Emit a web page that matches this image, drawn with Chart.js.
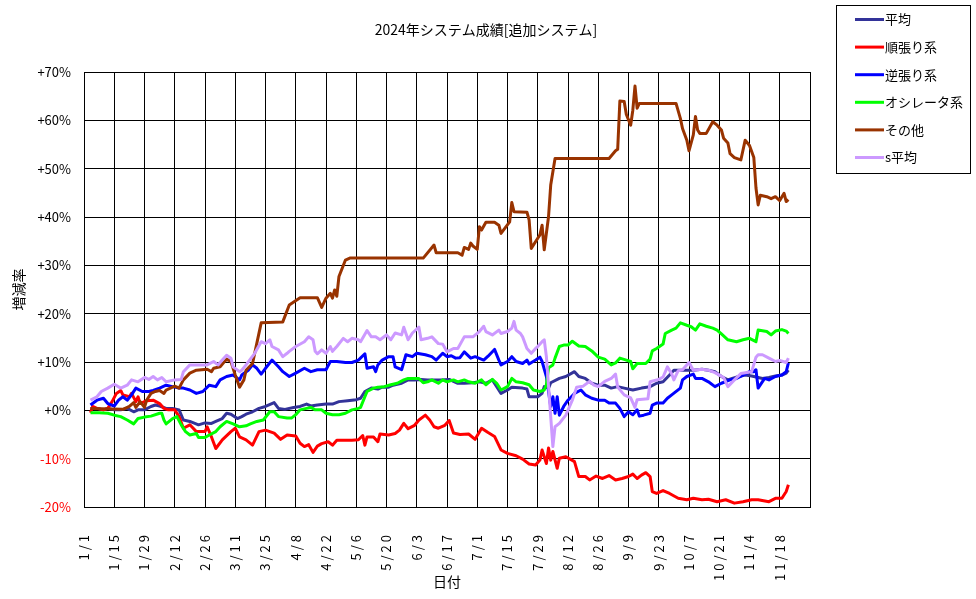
<!DOCTYPE html>
<html><head><meta charset="utf-8">
<script src="https://cdn.jsdelivr.net/npm/chart.js@4.4.1/dist/chart.umd.min.js"></script>
<style>html,body{margin:0;padding:0;background:#fff;}#wrap{width:976px;height:599px;position:relative;}</style>
</head><body><div id="wrap"><canvas id="c" width="976" height="599"></canvas></div>
<script>
const chartTitle = '2024年システム成績[追加システム]';
const xAxisTitle = '日付';
const yAxisTitle = '増減率';
const tickDays = [0,14,28,42,56,70,84,98,112,126,140,154,168,182,196,210,224,238,252,266,280,294,308,322,336];
const tickLabels = ['1/1','1/15','1/29','2/12','2/26','3/11','3/25','4/8','4/22','5/6','5/20','6/3','6/17','7/1','7/15','7/29','8/12','8/26','9/9','9/23','10/7','10/21','11/4','11/18',''];
const seriesNames = ['平均','順張り系','逆張り系','オシレータ系','その他','s平均'];
const seriesColors = ['#333399','#FF0000','#0000FF','#00FF00','#993300','#CC99FF'];

const avgDays = [3,6,9,11,14,17,20,23,25,28,31,33,35,38,41,44,46,49,53,56,59,61,64,66,68,71,73,75,78,81,84,88,90,93,97,100,103,105,108,112,115,118,122,126,128,130,133,136,138,141,143,147,150,153,156,159,162,165,169,173,176,180,183,186,189,191,193,196,198,203,205,206,210,212,213,215,216,220,223,227,229,232,235,238,241,244,247,250,254,258,262,265,268,271,273,276,282,286,289,292,295,298,300,303,306,309,312,314,317,320,323,325,326];
const avgVals = [0.4,0.4,0.1,0.4,0.1,0.1,0.4,-0.3,0.1,0.1,0.8,1.1,0.9,0.4,0.4,0.1,-2.0,-2.3,-3.0,-2.6,-2.7,-2.3,-1.7,-0.6,-0.8,-1.7,-1.3,-0.8,-0.3,0.4,0.8,1.6,0.4,0.2,0.6,0.8,1.3,0.9,1.1,1.3,1.3,1.8,2.0,2.2,2.5,3.9,4.6,4.4,4.8,4.8,5.2,5.6,6.3,6.3,6.4,6.3,6.3,6.3,6.4,5.6,5.6,5.7,5.9,5.6,6.3,4.9,3.5,4.2,4.8,4.6,4.4,2.8,2.8,3.5,4.9,4.6,5.7,6.6,7.0,8.0,7.0,6.6,5.6,5.2,5.2,4.6,4.9,4.6,4.2,4.6,4.9,5.6,5.9,7.3,8.3,8.3,8.3,8.5,8.3,8.0,7.0,6.3,6.6,7.0,7.3,7.1,6.8,6.6,6.8,7.1,7.3,7.7,8.3];

const trendDays = [3,4,6,9,11,13,15,17,18,21,22,24,25,26,29,32,35,37,39,42,44,46,49,52,56,57,59,61,64,68,70,72,75,78,81,84,88,91,94,98,100,102,104,106,108,110,113,115,117,124,127,129,130,131,134,136,137,141,144,146,148,150,153,155,158,160,162,164,167,169,171,174,178,181,184,187,190,193,196,200,203,206,209,211,212,214,215,216,217,219,220,223,227,229,232,234,237,240,243,246,249,252,254,256,258,260,262,263,265,268,271,275,279,282,286,289,293,297,301,305,309,312,317,320,323,325,326];
const trendVals = [-0.5,0.8,0.4,0.1,0.4,1.8,3.5,4.1,3.2,2.8,3.5,1.8,2.8,1.4,2.0,2.1,1.4,0.4,0.1,0.1,-1.3,-3.7,-3.0,-4.4,-4.4,-3.4,-5.5,-7.9,-6.1,-4.4,-3.7,-5.5,-6.1,-7.2,-4.4,-4.1,-4.7,-6.0,-5.1,-5.3,-6.8,-7.5,-7.1,-8.7,-7.4,-6.9,-6.5,-7.2,-6.2,-6.2,-6.1,-5.2,-7.2,-5.5,-5.5,-6.5,-4.9,-5.1,-4.8,-4.1,-2.7,-3.8,-3.1,-2.0,-1.0,-2.0,-3.4,-3.7,-3.1,-2.1,-4.7,-5.0,-4.9,-6.0,-3.7,-4.6,-5.4,-8.2,-8.9,-9.4,-10.1,-11.1,-11.3,-10.3,-8.2,-11.0,-7.8,-10.3,-8.5,-12.0,-9.9,-9.6,-10.6,-13.7,-13.7,-14.4,-13.6,-14.1,-13.5,-14.4,-14.1,-13.7,-13.2,-14.1,-13.4,-12.9,-13.7,-16.8,-17.2,-16.6,-17.2,-18.2,-18.5,-18.2,-18.5,-18.4,-18.9,-18.5,-19.2,-18.9,-18.5,-18.5,-18.9,-18.2,-18.2,-16.8,-15.4];

const contraDays = [3,6,9,11,14,16,18,20,22,24,27,30,32,35,38,41,44,46,49,52,55,58,61,63,66,69,72,73,76,78,80,82,84,87,90,92,95,98,102,105,108,112,114,117,121,124,127,130,131,134,135,136,138,141,143,144,147,149,152,154,158,161,163,166,168,170,172,174,176,179,181,185,187,190,192,193,196,198,200,203,205,206,209,211,212,214,215,216,217,218,219,220,222,224,227,230,232,235,238,241,243,246,248,250,252,254,256,257,259,262,263,265,268,270,272,276,277,279,282,283,286,289,292,295,299,302,305,308,310,311,312,315,317,320,323,325,326];
const contraVals = [1.1,2.1,2.5,1.4,0.9,2.1,2.8,2.1,3.2,4.6,3.9,3.9,4.1,4.6,5.2,4.9,4.6,4.6,4.2,3.5,3.9,5.2,4.9,6.3,7.0,7.3,6.3,7.3,8.3,9.4,8.7,7.5,8.7,10.4,9.0,8.0,7.0,7.7,8.7,8.0,8.4,8.4,10.1,10.1,9.9,9.9,10.4,11.7,8.7,9.0,8.0,9.4,10.4,11.1,11.1,9.0,8.4,11.5,11.1,11.8,11.5,11.1,10.4,11.8,11.1,11.3,10.8,10.9,12.1,10.8,11.1,10.4,11.2,12.6,10.4,9.4,10.1,11.1,10.1,9.7,10.4,9.6,10.4,11.0,10.1,7.0,3.9,0.8,2.8,-0.6,2.8,-1.0,0.8,2.1,3.5,4.2,3.2,2.5,2.1,2.1,1.5,1.5,0.4,-1.3,-0.3,-0.9,0.1,-1.2,-1.0,-0.6,1.1,1.5,1.5,2.5,3.2,4.6,6.3,7.0,7.5,6.6,6.6,5.9,4.9,5.6,6.3,6.6,7.3,8.0,8.0,8.4,4.6,6.6,6.3,7.0,7.3,8.0,9.8];

const oscDays = [3,7,11,14,17,20,23,25,28,31,35,36,37,38,41,43,45,47,49,52,53,56,58,61,63,66,69,72,75,77,80,83,86,88,90,94,96,98,100,103,105,107,110,112,115,118,121,124,127,128,130,131,134,136,139,142,145,148,150,155,157,159,161,164,166,168,171,173,176,178,181,184,186,189,191,193,196,198,200,203,206,208,211,213,214,215,217,218,220,222,224,226,229,232,235,238,241,244,246,248,251,253,254,256,260,262,263,265,268,269,272,274,276,279,281,283,285,288,291,293,295,298,302,305,308,311,312,316,318,320,323,325,326];
const oscVals = [-0.5,-0.5,-0.6,-1.0,-1.3,-2.0,-2.8,-1.7,-1.4,-1.2,-0.6,-0.6,-2.0,-2.8,-1.7,-1.3,-3.0,-4.4,-5.1,-4.8,-5.6,-5.6,-5.1,-4.4,-3.4,-2.3,-2.8,-3.4,-3.2,-2.8,-2.3,-2.0,-0.3,-0.3,-1.3,-1.6,-1.6,-0.9,0.1,0.4,0.6,0.1,0.1,-0.6,-0.9,-0.9,-0.6,0.1,0.4,0.6,2.8,3.9,4.6,4.8,4.9,5.3,5.6,6.3,6.6,6.6,5.7,5.9,6.3,5.6,6.3,5.9,6.3,5.9,6.3,5.9,5.6,6.3,5.3,6.4,5.6,4.2,4.9,6.6,5.9,5.7,5.3,4.2,3.9,4.2,5.3,8.8,9.4,10.8,13.2,13.5,13.5,14.3,13.3,13.2,12.3,11.0,10.6,9.4,9.8,10.8,10.4,10.1,8.6,9.7,9.7,10.6,12.3,12.8,13.7,15.9,16.6,17.0,18.1,17.6,17.3,16.6,17.9,17.4,17.0,16.6,15.8,14.6,14.2,14.6,14.9,14.2,16.6,16.3,15.6,16.4,16.7,16.4,15.9];

const otherDays = [3,18,21,23,24,26,28,29,31,33,35,37,38,40,42,44,46,49,52,57,59,60,63,66,68,70,72,74,75,78,80,82,92,95,100,108,110,112,114,115,116,117,118,121,123,157,162,163,173,175,176,178,179,180,182,183,184,186,190,192,193,197,198,199,205,206,207,210,211,212,213,215,216,218,243,246,247,248,250,251,253,254,255,256,257,274,276,277,279,280,282,283,284,285,288,291,293,295,296,298,299,301,304,306,308,310,311,312,313,316,318,320,322,324,325,326];
const otherVals = [0.4,0.2,0.8,1.6,0.6,1.8,0.6,2.1,3.5,3.9,4.1,3.5,4.2,4.6,5.0,4.6,6.3,7.7,8.3,8.5,8.0,8.7,9.0,10.6,10.1,7.3,4.8,6.3,8.3,9.7,13.9,18.1,18.3,21.8,23.3,23.3,21.3,23.2,24.2,23.2,24.9,23.6,27.7,31.1,31.5,31.5,34.2,32.6,32.6,32.1,33.7,33.3,34.6,34.0,33.3,38.0,37.3,38.9,38.9,38.3,36.6,39.0,43.0,41.1,41.0,39.4,33.5,35.6,36.3,38.3,33.2,40.1,46.6,52.1,52.1,53.7,54.0,64.0,63.9,61.2,59.0,62.1,67.1,62.5,63.5,63.5,60.4,58.3,55.9,53.7,57.0,60.8,58.0,57.3,57.3,59.7,59.0,58.0,56.3,55.3,53.1,52.3,51.8,55.9,54.8,52.3,46.0,42.5,44.5,44.2,43.8,44.2,43.4,44.9,43.2,43.6];

const sAvgDays = [3,6,8,11,14,17,20,22,25,28,30,32,34,36,38,42,45,46,49,53,57,60,62,64,66,68,69,72,73,75,79,82,84,86,87,90,92,94,95,98,102,104,106,107,108,110,112,114,115,117,120,122,124,127,128,131,133,135,137,140,142,144,147,148,150,152,155,156,159,161,164,166,168,171,173,176,180,183,185,186,189,192,193,196,198,199,200,202,203,205,207,209,210,212,213,214,215,216,217,218,220,223,226,228,231,234,236,238,241,244,246,247,250,253,255,256,261,262,266,268,270,272,273,275,277,280,282,286,289,292,296,298,301,304,309,311,312,314,317,320,322,325,326];
const sAvgVals = [2.1,2.8,3.9,4.6,5.4,4.6,5.2,6.3,5.9,6.8,6.4,7.0,6.3,6.8,5.9,6.3,6.4,8.0,9.4,9.4,9.4,10.1,9.4,10.4,11.4,10.8,9.0,8.0,8.3,9.4,11.8,14.2,13.8,14.6,13.2,12.5,11.1,11.8,12.2,13.2,14.2,15.2,14.6,12.2,11.7,12.5,11.8,13.2,12.2,13.2,14.9,14.2,14.9,14.6,14.2,16.5,15.2,15.2,14.6,15.6,14.6,16.0,15.6,17.2,14.6,16.0,17.2,14.6,14.9,15.2,13.8,13.7,12.1,12.8,12.8,15.2,15.2,16.3,17.4,16.3,15.6,16.6,15.9,16.3,17.0,18.4,16.6,15.9,15.2,12.8,11.8,12.8,13.2,14.2,14.6,11.1,4.9,-1.3,-7.5,-3.4,-2.7,-1.0,2.1,4.8,5.0,6.0,5.2,4.9,6.0,6.6,7.5,4.8,3.2,2.6,0.6,2.2,2.4,5.9,6.4,6.9,9.0,7.5,6.3,8.2,8.4,9.9,8.3,8.5,8.3,7.8,6.8,4.9,6.3,7.6,8.0,11.0,11.5,11.5,10.8,10.1,10.3,9.9,10.8];

const seriesDays = [avgDays, trendDays, contraDays, oscDays, otherDays, sAvgDays];
const seriesVals = [avgVals, trendVals, contraVals, oscVals, otherVals, sAvgVals];

const FONT = "'Noto Sans CJK JP', 'DejaVu Sans', sans-serif";
Chart.defaults.font.family = FONT;
Chart.defaults.font.size = 13;
Chart.defaults.color = '#000';

const datasets = seriesNames.map((name, i) => {
  const d = seriesDays[i], v = seriesVals[i];
  const n = Math.min(d.length, v.length);
  const pts = [];
  for (let j = 0; j < n; j++) pts.push({x: d[j], y: v[j]});
  return {
    label: name, data: pts, borderColor: seriesColors[i], backgroundColor: seriesColors[i],
    borderWidth: 3, pointRadius: 0, pointHoverRadius: 0, tension: 0, fill: false,
    order: seriesNames.length - i, borderJoinStyle: 'round'
  };
});

const decor = {
  id: 'decor',
  afterDraw(chart) {
    const ctx = chart.ctx;
    ctx.save();
    ctx.fillStyle = '#000';
    ctx.font = "14px " + FONT;
    ctx.textAlign = 'center';
    ctx.textBaseline = 'middle';
    ctx.fillText(chartTitle, 486, 30);
    ctx.strokeStyle = '#000';
    ctx.lineWidth = 1;
    ctx.strokeRect(836.5, 5.5, 134, 168);
    ctx.font = "13px " + FONT;
    ctx.textAlign = 'left';
    chart.data.datasets.forEach((ds, i) => {
      const y = 19.5 + i * 27.6;
      ctx.strokeStyle = ds.borderColor;
      ctx.lineWidth = 3;
      ctx.beginPath(); ctx.moveTo(855, y); ctx.lineTo(884, y); ctx.stroke();
      ctx.fillStyle = '#000';
      ctx.fillText(ds.label, 885, y);
    });
    ctx.restore();
  }
};

const chart = new Chart(document.getElementById('c'), {
  type: 'line',
  data: { datasets },
  options: {
    responsive: false, animation: false, events: [],
    layout: { padding: { left: 0, right: 166, top: 72, bottom: 0 } },
    plugins: { legend: { display: false }, title: { display: false }, tooltip: { enabled: false } },
    scales: {
      x: {
        type: 'linear', min: 0, max: 336,
        afterBuildTicks: s => { s.ticks = tickDays.map(v => ({ value: v })); },
        afterFit: s => { s.height = 92; },
        grid: { color: '#000', lineWidth: 1, drawTicks: false },
        border: { color: '#000', width: 1 },
        ticks: { autoSkip: false, maxRotation: 90, minRotation: 90, padding: 25, color: '#000', font: { size: 13 },
          callback: (v, i) => tickLabels[i] },
        title: { display: true, text: xAxisTitle, color: '#000', font: { size: 14 }, padding: { top: 0, bottom: 9 } }
      },
      y: {
        min: -20, max: 70,
        afterFit: s => { s.width = 84; },
        grid: { color: '#000', lineWidth: 1, drawTicks: false },
        border: { color: '#000', width: 1 },
        ticks: { stepSize: 10, padding: 13, font: { size: 13 },
          color: c => (c.tick && c.tick.value < 0) ? '#FF0000' : '#000000',
          callback: v => (v >= 0 ? '+' : '') + v + '%' },
        title: { display: true, text: yAxisTitle, color: '#000', font: { size: 14 }, padding: { top: 10, bottom: 0 } }
      }
    }
  },
  plugins: [decor]
});

// widen the spacing of the rotated date labels, as in the reference
const xs = chart.scales.x;
const origDrawLabels = xs.drawLabels;
xs.drawLabels = function (area) {
  const ctx = this.ctx;
  ctx.save();
  if ('letterSpacing' in ctx) ctx.letterSpacing = '3px';
  origDrawLabels.call(this, area);
  ctx.restore();
};
chart.draw();
</script></body></html>
